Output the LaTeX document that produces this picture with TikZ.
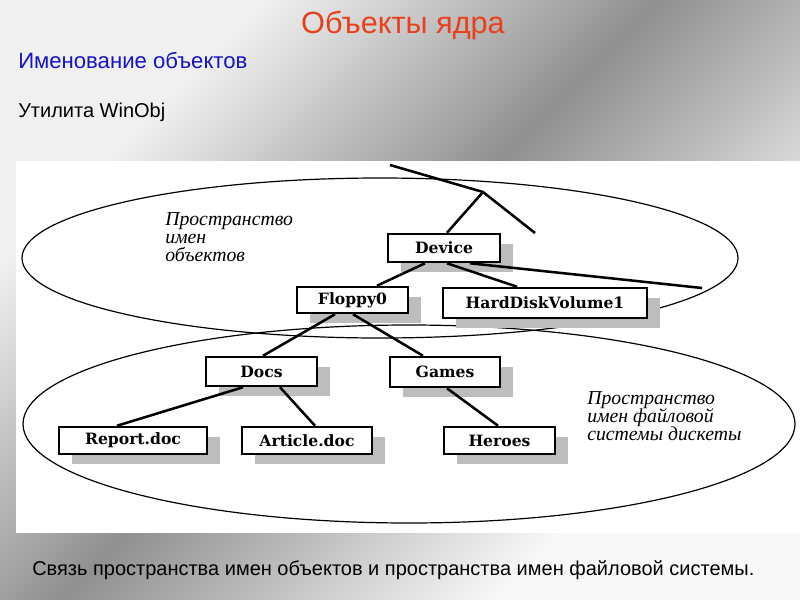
\documentclass[tikz,border=0pt]{standalone}
\usepackage{fontspec}
\setmainfont{Liberation Sans}
\newfontfamily\boxfont{DejaVu Serif}
\newfontfamily\labfont{Liberation Serif}
\usetikzlibrary{calc,shadows}
\definecolor{gA}{HTML}{F0F0F0}
\definecolor{gB}{HTML}{909090}
\definecolor{gC}{HTML}{F8F8F8}
\definecolor{titlered}{HTML}{E8401C}
\definecolor{subblue}{HTML}{1414C8}
\definecolor{shadowgray}{HTML}{BDBDBD}
\pgfdeclareverticalshading{bgshade}{100bp}{color(0bp)=(gC); color(30bp)=(gC); color(52bp)=(gB); color(72bp)=(gA); color(100bp)=(gA)}
\tikzset{
  objbox/.style={draw=black, line width=1.9pt, fill=white, inner sep=0pt,
    font=\boxfont\bfseries\fontsize{11.7}{13}\selectfont,
    drop shadow={shadow xshift=9.75pt, shadow yshift=-7.5pt, opacity=1, fill=shadowgray, draw=none}},
  link/.style={line width=1.9pt, black},
  oval/.style={line width=0.9pt, black},
  spacelabel/.style={align=left, anchor=north west, inner sep=0pt,
    font=\labfont\itshape\fontsize{14.8}{13.8}\selectfont},
}
\begin{document}
\begin{tikzpicture}[x=0.75pt, y=-0.75pt]
\useasboundingbox (0,0) rectangle (800,600);
\shade[shading=bgshade, shading angle=45] (0,0) rectangle (800,600);
\fill[white] (16,161) rectangle (800,533);

% titles
\node[text=titlered, font=\fontsize{23}{27}\selectfont] (title) at (403,25) {Объекты ядра};
\node[text=subblue, anchor=west, inner sep=0pt, font=\fontsize{16.6}{19}\selectfont] (sub) at (18,60) {Именование объектов};
\node[anchor=west, inner sep=0pt, font=\fontsize{15}{18}\selectfont] (util) at (18,112) {Утилита WinObj};
\node[anchor=west, inner sep=0pt, font=\fontsize{15}{18}\selectfont] (caption) at (32,570) {Связь пространства имен объектов и пространства имен файловой системы.};

% ellipses
\draw[oval] (380,258) ellipse [x radius=358, y radius=80];
\draw[oval] (409,424) ellipse [x radius=386, y radius=99];

% labels
\node[spacelabel] (objspace) at (165,212) {Пространство\\имен\\объектов};
\node[spacelabel] (fsspace) at (587,391) {Пространство\\имен файловой\\системы дискеты};

% boxes
\node[objbox, minimum width=84pt, minimum height=21pt] (device) at (444,248) {Device};
\node[objbox, minimum width=83.25pt, minimum height=19.5pt] (floppy) at (352.5,300) {Floppy0};
\node[objbox, minimum width=153pt, minimum height=22.5pt] (hdv) at (545,303) {HardDiskVolume1};
\node[objbox, minimum width=83.25pt, minimum height=21.75pt] (docs) at (261.5,371.5) {Docs};
\node[objbox, minimum width=82.5pt, minimum height=22.5pt] (games) at (445,372) {Games};
\node[objbox, minimum width=111pt, minimum height=20.25pt] (report) at (133,440.5) {Report.doc};
\node[objbox, minimum width=97.5pt, minimum height=20.25pt] (article) at (307,440.5) {Article.doc};
\node[objbox, minimum width=83.25pt, minimum height=20.25pt] (heroes) at (499.5,440.5) {Heroes};

% free ends
\coordinate (t1) at (390,165);
\coordinate (j) at (483,192);
\coordinate (t2) at (535,233);
\coordinate (t3) at (702,288);

% connectors
\draw[link] (t1) -- (j) -- (t2);
\draw[link] (j) -- ($(device.north)+(3,0)$);
\draw[link] ($(device.south)+(-19,0)$) -- ($(floppy.north)+(24.5,0)$);
\draw[link] ($(device.south)+(3,0)$) -- ($(hdv.north)+(-28,0)$);
\draw[link] ($(device.south)+(26,0)$) -- (t3);
\draw[link] ($(floppy.south)+(-17.5,0)$) -- ($(docs.north)+(1.5,0)$);
\draw[link] ($(floppy.south)+(0.5,0)$) -- ($(games.north)+(-22,0)$);
\draw[link] ($(docs.south)+(-18.5,0)$) -- ($(report.north)+(-16,0)$);
\draw[link] ($(docs.south)+(18.5,0)$) -- ($(article.north)+(8,0)$);
\draw[link] ($(games.south)+(2,0)$) -- ($(heroes.north)+(-1.5,0)$);
\end{tikzpicture}
\end{document}
